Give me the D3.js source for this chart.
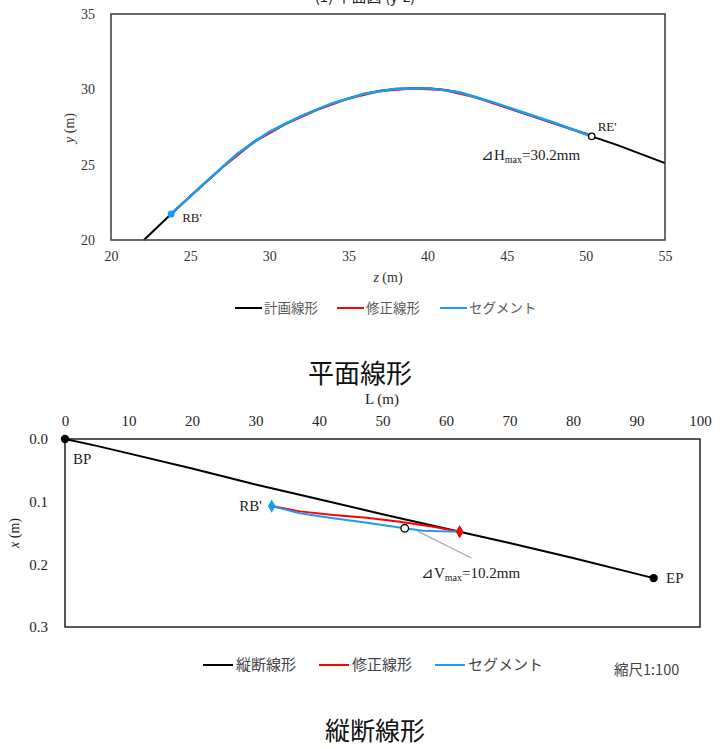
<!DOCTYPE html>
<html><head><meta charset="utf-8">
<script src="https://cdn.jsdelivr.net/npm/d3@7"></script>
<style>
body{margin:0;background:#fff;}
svg{display:block;}
</style></head>
<body>
<svg id="c" width="726" height="749"></svg>
<script>
// ---- Plan (平面線形) data: z (m), y (m)
const planZ = [22.08,23.8,25,26,27,28,29,30,31,32,33,34,35,36,37,38,39,40,41,42,43,44,45,46,47,48,49,50,50.37,52,55];
const planY = [20.0,21.73,22.9,23.85,24.8,25.7,26.5,27.15,27.7,28.2,28.65,29.05,29.4,29.7,29.9,30.02,30.08,30.07,29.98,29.8,29.5,29.15,28.8,28.45,28.1,27.75,27.4,27.05,26.88,26.3,25.1];
const modPlanZ = [23.8,25,27,29,31,33,35,37,39,41,43,45,47,49,50.37];
const modPlanY = [21.7,22.88,24.78,26.48,27.68,28.63,29.38,29.88,30.05,29.95,29.47,28.77,28.07,27.38,26.87];
const segPlanZ = [23.8,26,28,30,32,34,36,38,40,42,44,46,48,50.37];
const segPlanY = [21.73,23.86,25.74,27.18,28.22,29.08,29.71,30.04,30.08,29.81,29.18,28.48,27.78,26.88];
const planXTicks = [20,25,30,35,40,45,50,55];
const planYTicks = [20,25,30,35];

// ---- Profile (縦断線形) data: L (m), x (m)
const profL = [0,5,10,20,30,40,50,62.15,70,80,92.7];
const profX = [0,0.011,0.0229,0.047,0.0725,0.096,0.12,0.148,0.166,0.19,0.222];
const modProfL = [32.55,37,42.25,47.5,52.75,58,62.15];
const modProfX = [0.107,0.1155,0.1213,0.1256,0.132,0.14,0.148];
const segProfL = [32.55,37,42.25,47,53.5,56.4,62.15];
const segProfX = [0.107,0.1186,0.1265,0.133,0.1425,0.1465,0.148];
const profXTicks = [0,10,20,30,40,50,60,70,80,90,100];
const profYTicks = [0,0.1,0.2,0.3];

const BLACK = "#000", RED = "#ff0000", BLUE = "#1a9cf0";
const serif = "Liberation Serif, DejaVu Serif, serif";
const jp = "Noto Sans CJK JP, sans-serif";

const svg = d3.select("#c");

// cropped top title (partly outside the picture, as in the reference)
svg.append("text").attr("x",365).attr("y",2).attr("text-anchor","middle")
  .style("font-family",jp).attr("font-size",15).attr("fill","#222").text("(1) 平面図 (y-z)");

// ================= Plan chart =================
const xz = d3.scaleLinear().domain([20,55]).range([111,665]);
const yy = d3.scaleLinear().domain([20,35]).range([240,14]);

const gx1 = svg.append("g").attr("transform","translate(0,240)")
  .call(d3.axisBottom(xz).tickValues(planXTicks).tickSize(0).tickPadding(11));
const gy1 = svg.append("g").attr("transform","translate(111,0)")
  .call(d3.axisLeft(yy).tickValues(planYTicks).tickSize(0).tickPadding(16));
[gx1,gy1].forEach(g=>{g.select(".domain").remove(); g.attr("font-family",null);
  g.selectAll("text").style("font-family",serif).attr("font-size",14).attr("fill","#333");});

const line1 = d3.line().x(d=>xz(d[0])).y(d=>yy(d[1]));
svg.append("path").datum(d3.zip(planZ,planY)).attr("d",line1)
  .attr("fill","none").attr("stroke",BLACK).attr("stroke-width",2);
svg.append("path").datum(d3.zip(modPlanZ,modPlanY)).attr("d",line1)
  .attr("fill","none").attr("stroke",RED).attr("stroke-width",2);
svg.append("path").datum(d3.zip(segPlanZ,segPlanY)).attr("d",line1)
  .attr("fill","none").attr("stroke",BLUE).attr("stroke-width",2.5);

svg.append("rect").attr("x",111).attr("y",14).attr("width",554).attr("height",226)
  .attr("fill","none").attr("stroke","#3a3a3a").attr("stroke-width",1.5);

// markers
svg.append("circle").attr("cx",xz(segPlanZ[0])).attr("cy",yy(segPlanY[0])).attr("r",3.5).attr("fill",BLUE);
svg.append("circle").attr("cx",xz(segPlanZ[segPlanZ.length-1])).attr("cy",yy(segPlanY[segPlanY.length-1]))
  .attr("r",3.2).attr("fill","#fff").attr("stroke","#000").attr("stroke-width",1.3);

svg.append("text").attr("x",xz(segPlanZ[0])+11).attr("y",yy(segPlanY[0])+8)
  .style("font-family",serif).attr("font-size",13).attr("fill","#222").text("RB'");
svg.append("text").attr("x",xz(segPlanZ[segPlanZ.length-1])+6).attr("y",yy(segPlanY[segPlanY.length-1])-5)
  .style("font-family",serif).attr("font-size",13).attr("fill","#222").text("RE'");
const ah = svg.append("text").attr("x",481).attr("y",160)
  .style("font-family",serif).attr("font-size",15).attr("fill","#222");
ah.append("tspan").text("⊿H");
ah.append("tspan").attr("font-size",10).attr("dy",3).text("max");
ah.append("tspan").attr("dy",-3).text("=30.2mm");

// axis titles
const yt = svg.append("text").attr("transform","translate(74,128) rotate(-90)").attr("text-anchor","middle")
  .style("font-family",serif).attr("font-size",14).attr("fill","#333");
yt.append("tspan").attr("font-style","italic").text("y");
yt.append("tspan").text(" (m)");
const xt = svg.append("text").attr("x",388).attr("y",282).attr("text-anchor","middle")
  .style("font-family",serif).attr("font-size",14).attr("fill","#333");
xt.append("tspan").attr("font-style","italic").text("z");
xt.append("tspan").text(" (m)");

// legend 1
const leg1 = [{c:BLACK,t:"計画線形",x:235},{c:RED,t:"修正線形",x:337},{c:BLUE,t:"セグメント",x:440}];
leg1.forEach(d=>{
  svg.append("line").attr("x1",d.x).attr("x2",d.x+27).attr("y1",308).attr("y2",308)
    .attr("stroke",d.c).attr("stroke-width",2);
  svg.append("text").attr("x",d.x+29).attr("y",313).style("font-family",jp).attr("font-size",13.5)
    .attr("fill","#595959").text(d.t);
});

svg.append("text").attr("x",360).attr("y",383).attr("text-anchor","middle")
  .style("font-family",jp).attr("font-size",26).attr("fill","#111").text("平面線形");

// ================= Profile chart =================
const xL = d3.scaleLinear().domain([0,100]).range([65,700]);
const yx = d3.scaleLinear().domain([0,0.3]).range([439,627]);

const gx2 = svg.append("g").attr("transform","translate(0,439)")
  .call(d3.axisTop(xL).tickValues(profXTicks).tickSize(0).tickPadding(13));
const gy2 = svg.append("g").attr("transform","translate(65,0)")
  .call(d3.axisLeft(yx).tickValues(profYTicks).tickFormat(d3.format(".1f")).tickSize(0).tickPadding(17));
[gx2,gy2].forEach(g=>{g.select(".domain").remove(); g.attr("font-family",null);
  g.selectAll("text").style("font-family",serif).attr("font-size",15).attr("fill","#222");});

svg.append("text").attr("x",382).attr("y",404).attr("text-anchor","middle")
  .style("font-family",serif).attr("font-size",15).attr("fill","#222").text("L (m)");
const yt2 = svg.append("text").attr("transform","translate(19,533) rotate(-90)").attr("text-anchor","middle")
  .style("font-family",serif).attr("font-size",14).attr("fill","#222");
yt2.append("tspan").attr("font-style","italic").text("x");
yt2.append("tspan").text(" (m)");

svg.append("rect").attr("x",65).attr("y",439).attr("width",635).attr("height",188)
  .attr("fill","none").attr("stroke","#222").attr("stroke-width",1.5);

const line2 = d3.line().x(d=>xL(d[0])).y(d=>yx(d[1]));
svg.append("path").datum(d3.zip(profL,profX)).attr("d",line2)
  .attr("fill","none").attr("stroke",BLACK).attr("stroke-width",2);
svg.append("path").datum(d3.zip(modProfL,modProfX)).attr("d",line2)
  .attr("fill","none").attr("stroke",RED).attr("stroke-width",2);
svg.append("path").datum(d3.zip(segProfL,segProfX)).attr("d",line2)
  .attr("fill","none").attr("stroke",BLUE).attr("stroke-width",2);

// leader line for ⊿Vmax
svg.append("line").attr("x1",xL(55.5)).attr("y1",yx(0.147)).attr("x2",xL(64)).attr("y2",yx(0.19))
  .attr("stroke","#aaa").attr("stroke-width",1.2);

const sym = d3.symbol().type(d3.symbolDiamond).size(50);
svg.append("path").attr("d",sym).attr("fill",BLUE)
  .attr("transform",`translate(${xL(segProfL[0])},${yx(segProfX[0])})`);
svg.append("path").attr("d",sym).attr("fill",BLUE)
  .attr("transform",`translate(${xL(segProfL[segProfL.length-1])},${yx(segProfX[segProfX.length-1])})`);
svg.append("path").attr("d",sym).attr("fill",RED)
  .attr("transform",`translate(${xL(modProfL[modProfL.length-1])},${yx(modProfX[modProfX.length-1])})`);
svg.append("circle").attr("cx",xL(segProfL[4])).attr("cy",yx(segProfX[4])).attr("r",3.8)
  .attr("fill","#fff").attr("stroke","#000").attr("stroke-width",1.3);
svg.append("circle").attr("cx",xL(profL[0])).attr("cy",yx(profX[0])).attr("r",4.2).attr("fill","#000");
svg.append("circle").attr("cx",xL(profL[profL.length-1])).attr("cy",yx(profX[profX.length-1])).attr("r",4.2).attr("fill","#000");

svg.append("text").attr("x",73).attr("y",464).style("font-family",serif).attr("font-size",15).attr("fill","#222").text("BP");
svg.append("text").attr("x",666).attr("y",583).style("font-family",serif).attr("font-size",15).attr("fill","#222").text("EP");
svg.append("text").attr("x",262).attr("y",511).attr("text-anchor","end").style("font-family",serif).attr("font-size",15).attr("fill","#222").text("RB'");
const av = svg.append("text").attr("x",421).attr("y",578)
  .style("font-family",serif).attr("font-size",15).attr("fill","#222");
av.append("tspan").text("⊿V");
av.append("tspan").attr("font-size",10).attr("dy",3).text("max");
av.append("tspan").attr("dy",-3).text("=10.2mm");

// legend 2
const leg2 = [{c:BLACK,t:"縦断線形",x:203},{c:RED,t:"修正線形",x:319},{c:BLUE,t:"セグメント",x:435}];
leg2.forEach(d=>{
  svg.append("line").attr("x1",d.x).attr("x2",d.x+30).attr("y1",665).attr("y2",665)
    .attr("stroke",d.c).attr("stroke-width",2);
  svg.append("text").attr("x",d.x+33).attr("y",670).style("font-family",jp).attr("font-size",15)
    .attr("fill","#444").text(d.t);
});
svg.append("text").attr("x",614).attr("y",675).style("font-family",jp).attr("font-size",14.5)
  .attr("fill","#444").text("縮尺1:100");

svg.append("text").attr("x",375).attr("y",740).attr("text-anchor","middle")
  .style("font-family",jp).attr("font-size",25).attr("fill","#111").text("縦断線形");
</script>
</body></html>
